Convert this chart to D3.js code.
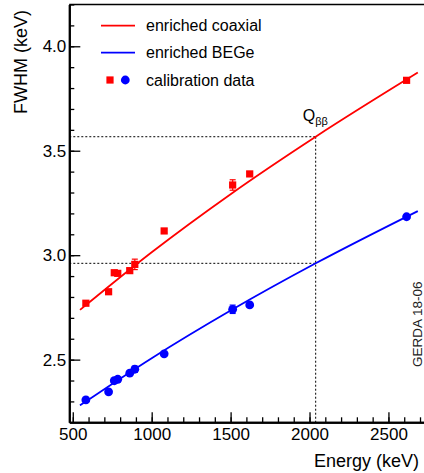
<!DOCTYPE html>
<html>
<head>
<meta charset="utf-8">
<script src="https://cdn.jsdelivr.net/npm/d3@7"></script>
<style>
  body { margin: 0; background: #fff; }
  svg { display: block; font-family: "Liberation Sans", Arial, Helvetica, sans-serif; }
</style>
</head>
<body>
<svg id="chart" width="424" height="473"></svg>
<script>
// calibration lines (keV)
const energies = [583, 727, 763, 785, 861, 893, 1079, 1513, 1621, 2615];
const coaxFwhm = [2.770, 2.825, 2.916, 2.913, 2.926, 2.956, 3.116, 3.336, 3.389, 3.837];
const coaxErr  = [0.010, 0.010, 0.010, 0.010, 0.010, 0.025, 0.010, 0.025, 0.010, 0.010];
const begeFwhm = [2.307, 2.346, 2.399, 2.406, 2.435, 2.454, 2.528, 2.741, 2.762, 3.184];
const begeErr  = [0.010, 0.010, 0.010, 0.010, 0.010, 0.015, 0.010, 0.020, 0.010, 0.010];

// fitted resolution curves
const fitEnergy = [546, 1000, 1500, 2039, 2686];
const fitCoax   = [2.738, 3.014, 3.292, 3.567, 3.874];
const fitBege   = [2.281, 2.507, 2.735, 2.961, 3.211];

const qbb = 2039;
const qbbCoax = 3.567;
const qbbBege = 2.961;

const xMajor = [500, 1000, 1500, 2000, 2500];
const xMinor = d3.range(500, 2800, 100);
const yMajor = [2.5, 3.0, 3.5, 4.0];
const yMinor = d3.range(23, 43).map(d => d / 10);

const svg = d3.select('#chart');
const mLeft = 69.3, mRight = 427.9, mTop = 4.5, mBottom = 422.3;

const x = d3.scaleLinear().domain([478, 2750]).range([mLeft, mRight]);
const y = d3.scaleLinear().domain([2.2, 4.2]).range([mBottom, mTop]);

// axes
svg.append('g').attr('transform', `translate(${mLeft},0)`)
    .call(d3.axisLeft(y).tickValues(yMajor).tickFormat(d3.format('.1f'))
        .tickSizeInner(-11).tickSizeOuter(0).tickPadding(3));
svg.append('g').attr('transform', `translate(${mLeft},0)`)
    .call(d3.axisLeft(y).tickValues(yMinor).tickFormat('').tickSizeInner(-5).tickSizeOuter(0));

svg.append('g').attr('transform', `translate(0,${mBottom})`)
    .call(d3.axisBottom(x).tickValues(xMajor).tickFormat(d3.format('d'))
        .tickSizeInner(-10).tickSizeOuter(0).tickPadding(6));
svg.append('g').attr('transform', `translate(0,${mBottom})`)
    .call(d3.axisBottom(x).tickValues(xMinor).tickFormat('').tickSizeInner(-5).tickSizeOuter(0));

svg.selectAll('.domain').attr('stroke', '#000').attr('stroke-width', 2);
svg.selectAll('.tick line').attr('stroke', '#000').attr('stroke-width', 1.3);
svg.selectAll('.tick text').attr('font-size', 17).attr('fill', '#000')
    .attr('font-family', '"Liberation Sans", Arial, sans-serif');

// top frame
svg.append('line').attr('x1', mLeft).attr('x2', 424).attr('y1', mTop).attr('y2', mTop)
    .attr('stroke', '#000').attr('stroke-width', 1.5);

// axis titles
svg.append('text').attr('x', 419).attr('y', 466.5).attr('text-anchor', 'end')
    .attr('font-size', 18).text('Energy (keV)');
svg.append('text').attr('transform', 'translate(27,10) rotate(-90)').attr('text-anchor', 'end')
    .attr('font-size', 18).text('FWHM (keV)');

// Qbb reference lines
const dotted = g => g.attr('stroke', '#000').attr('stroke-width', 1).attr('stroke-dasharray', '2,2').attr('fill', 'none');
svg.append('line').attr('x1', mLeft).attr('x2', x(qbb)).attr('y1', y(qbbCoax)).attr('y2', y(qbbCoax)).call(dotted);
svg.append('line').attr('x1', mLeft).attr('x2', x(qbb)).attr('y1', y(qbbBege)).attr('y2', y(qbbBege)).call(dotted);
svg.append('line').attr('x1', x(qbb)).attr('x2', x(qbb)).attr('y1', y(qbbCoax)).attr('y2', mBottom).call(dotted);

const qLabel = svg.append('text').attr('x', x(qbb) - 13).attr('y', 121).attr('font-size', 16);
qLabel.append('tspan').text('Q');
qLabel.append('tspan').attr('font-size', 11).attr('dy', 4).text('ββ');

// fit curves
const line = d3.line().x(d => x(d[0])).y(d => y(d[1])).curve(d3.curveMonotoneX);
svg.append('path').datum(fitEnergy.map((e, i) => [e, fitCoax[i]]))
    .attr('d', line).attr('fill', 'none').attr('stroke', '#ff0000').attr('stroke-width', 1.8);
svg.append('path').datum(fitEnergy.map((e, i) => [e, fitBege[i]]))
    .attr('d', line).attr('fill', 'none').attr('stroke', '#0000ff').attr('stroke-width', 1.8);

// error bars
function errorBars(vals, errs, color) {
  const g = svg.append('g').attr('stroke', color).attr('stroke-width', 1.2);
  energies.forEach((e, i) => {
    const y1 = y(vals[i] - errs[i]), y2 = y(vals[i] + errs[i]);
    g.append('line').attr('x1', x(e)).attr('x2', x(e)).attr('y1', y1).attr('y2', y2);
    g.append('line').attr('x1', x(e) - 3).attr('x2', x(e) + 3).attr('y1', y1).attr('y2', y1);
    g.append('line').attr('x1', x(e) - 3).attr('x2', x(e) + 3).attr('y1', y2).attr('y2', y2);
  });
}
errorBars(coaxFwhm, coaxErr, '#ff0000');
errorBars(begeFwhm, begeErr, '#0000ff');

// calibration points
svg.append('g').selectAll('rect').data(energies).join('rect')
    .attr('x', d => x(d) - 3.6).attr('y', (d, i) => y(coaxFwhm[i]) - 3.6)
    .attr('width', 7.2).attr('height', 7.2).attr('fill', '#ff0000');
svg.append('g').selectAll('circle').data(energies).join('circle')
    .attr('cx', d => x(d)).attr('cy', (d, i) => y(begeFwhm[i]))
    .attr('r', 4.4).attr('fill', '#0000ff');

// legend
const legend = svg.append('g').attr('font-size', 16);
legend.append('line').attr('x1', 101).attr('x2', 135).attr('y1', 25.7).attr('y2', 25.7)
    .attr('stroke', '#ff0000').attr('stroke-width', 1.8);
legend.append('text').attr('x', 146).attr('y', 25.7).attr('dy', '0.36em').text('enriched coaxial');
legend.append('line').attr('x1', 101).attr('x2', 135).attr('y1', 52.7).attr('y2', 52.7)
    .attr('stroke', '#0000ff').attr('stroke-width', 1.8);
legend.append('text').attr('x', 146).attr('y', 52.7).attr('dy', '0.36em').text('enriched BEGe');
legend.append('rect').attr('x', 106.4).attr('y', 76.4).attr('width', 7.2).attr('height', 7.2).attr('fill', '#ff0000');
legend.append('circle').attr('cx', 125.3).attr('cy', 80).attr('r', 4.4).attr('fill', '#0000ff');
legend.append('text').attr('x', 146).attr('y', 80).attr('dy', '0.36em').text('calibration data');

// label
svg.append('text').attr('transform', 'translate(422,367) rotate(-90)')
    .attr('font-size', 13.5).attr('fill', '#222').text('GERDA 18-06');
</script>
</body>
</html>
